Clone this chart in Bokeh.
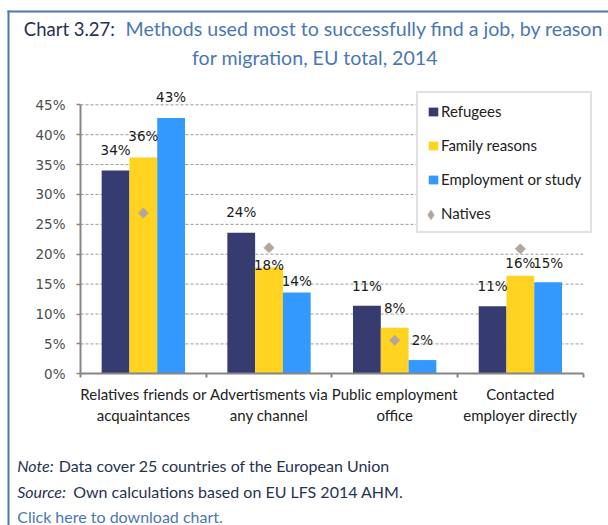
import numpy as np
from bokeh.plotting import figure
from bokeh.models import (ColumnDataSource, Range1d, FixedTicker, LabelSet, Label,
                          BoxAnnotation, Legend, LegendItem)
from bokeh.core.properties import value
from bokeh.embed import file_html
from bokeh.resources import INLINE

# ---------------- data ----------------
categories = ["Relatives friends or\nacquaintances", "Advertisments via\nany channel",
              "Public employment\noffice", "Contacted\nemployer directly"]
refugees = [34.0, 23.6, 11.4, 11.3]
family = [36.2, 17.8, 7.7, 16.4]
employment = [42.8, 13.6, 2.3, 15.3]
natives = [26.9, 21.1, 5.6, 20.9]
series_names = ["Refugees", "Family reasons", "Employment or study"]
natives_name = "Natives"
y_ticks = [0, 5, 10, 15, 20, 25, 30, 35, 40, 45]

title_lead = "Chart 3.27:"
title_rest = "Methods used most to successfully find a job, by reason"
title_line2 = "for migration, EU total, 2014"
note_lead, note_text = "Note:", "Data cover 25 countries of the European Union"
source_lead, source_text = "Source:", "Own calculations based on EU LFS 2014 AHM."
link_text = "Click here to download chart."

# ---------------- layout / styles ----------------
W, H = 608, 525
PX_X0, PX_X1 = 80.0, 582.7      # pixel x of the plot area (category 0 .. n)
PX_Y0, PX_Y1 = 373.3, 104.3     # pixel y of 0% and 45%
colors = ["#363B70", "#FFD320", "#3399FF"]
native_color = "#B3A69E"
BW = 0.221
# pixel offset of each value label above its bar top (style)
label_dy = [[21, 21, 21], [21, 2, 12], [20, 20, 20], [20, 13, 19]]
AX = "#868686"
GRID = "#9a9a9a"

n = len(categories)
ymax = y_ticks[-1]
sx_ = (PX_X1 - PX_X0) / n
sy_ = (PX_Y0 - PX_Y1) / ymax


def dx(px):
    return (px - PX_X0) / sx_


def dy(py):
    return (PX_Y0 - py) / sy_


p = figure(width=W, height=H, output_backend="svg", toolbar_location=None,
           x_range=Range1d(dx(0), dx(W)), y_range=Range1d(dy(H), dy(0)),
           min_border_left=0, min_border_right=0, min_border_top=0, min_border_bottom=0)
p.title.visible = False
p.outline_line_color = None
p.background_fill_color = "white"
p.border_fill_color = "white"

centers = [i + 0.5 for i in range(n)]

# dashed grid lines across the plot area only
grid_y = y_ticks[1:]
p.segment(x0=[0] * len(grid_y), x1=[n] * len(grid_y), y0=grid_y, y1=grid_y,
          line_color=GRID, line_dash="3 2", line_width=1)

series = [refugees, family, employment]
lx, ly, lt, ld = [], [], [], []
bar_renderers = []
for j, (name, vals, col) in enumerate(zip(series_names, series, colors)):
    xs = [c + (j - 1) * BW for c in centers]
    r = p.vbar(x=xs, top=vals, width=BW, fill_color=col, line_color=None)
    bar_renderers.append(r)
    for i in range(n):
        lx.append(xs[i]); ly.append(vals[i]); lt.append(f"{round(vals[i])}%"); ld.append(label_dy[i][j])

# natives: rotated squares (diamonds) on the chart
p.scatter(x=centers, y=natives, marker="square", angle=np.pi / 4, size=7,
          fill_color=native_color, line_color=native_color)
# same series as a diamond marker, hidden, used only for the legend swatch
nat_key = p.scatter(x=centers, y=natives, marker="diamond", size=9,
                    fill_color=native_color, line_color=native_color, visible=False)

lsrc = ColumnDataSource(dict(x=lx, y=ly, text=lt, dy=ld))
p.add_layout(LabelSet(x="x", y="y", text="text", y_offset="dy", source=lsrc,
                      text_align="center", text_baseline="middle",
                      text_font=value("DejaVu Sans"), text_font_size=value("13.5px"),
                      text_color="#1a1a1a"))

# axes (fixed inside the frame)
p.yaxis.fixed_location = 0
p.yaxis.bounds = (0, ymax)
p.yaxis.ticker = FixedTicker(ticks=y_ticks)
p.yaxis.major_label_overrides = {t: f"{t}%" for t in y_ticks}
p.yaxis.major_label_text_font = "DejaVu Sans"
p.yaxis.major_label_text_font_size = "13.5px"
p.yaxis.major_label_text_color = "#4d4d4d"
p.yaxis.major_label_standoff = 11
p.yaxis.major_tick_in = 0
p.yaxis.major_tick_out = 4
p.yaxis.minor_tick_line_color = None
p.yaxis.axis_line_color = AX
p.yaxis.axis_line_width = 2
p.yaxis.major_tick_line_color = AX
p.yaxis.major_tick_line_width = 1.5

p.xaxis.fixed_location = 0
p.xaxis.bounds = (0, n)
p.xaxis.ticker = FixedTicker(ticks=centers, minor_ticks=list(range(n + 1)))
p.xaxis.major_label_overrides = {c: lab for c, lab in zip(centers, categories)}
p.xaxis.major_label_text_font = "Lato"
p.xaxis.major_label_text_font_size = "15px"
p.xaxis.major_label_text_color = "#222222"
p.xaxis.major_tick_line_color = None
p.xaxis.major_tick_in = 0
p.xaxis.major_tick_out = 0
p.xaxis.major_label_standoff = 7
p.xaxis.minor_tick_in = 0
p.xaxis.minor_tick_out = 4
p.xaxis.minor_tick_line_color = AX
p.xaxis.minor_tick_line_width = 2
p.xaxis.axis_line_color = AX
p.xaxis.axis_line_width = 2

p.xgrid.visible = False
p.ygrid.visible = False

# legends: A = box + labels + bar swatches, B = natives diamond swatch
def style_legend(lg):
    lg.margin = 0
    lg.label_text_font = "Lato"
    lg.label_text_font_size = "15px"
    lg.label_text_color = "#222222"

legA_items = [LegendItem(label=nm, renderers=[r]) for nm, r in zip(series_names, bar_renderers)]
legA_items.append(LegendItem(label=natives_name, renderers=[]))
legA = Legend(items=legA_items, location=(416, H - 233), padding=9, spacing=16,
              label_height=18, glyph_width=12, glyph_height=11, label_standoff=2,
              border_line_color="#C4C4C4", border_line_width=2,
              background_fill_color="white", background_fill_alpha=1)
style_legend(legA)
KEY = 23
legB = Legend(items=[LegendItem(label="", renderers=[nat_key])],
              location=(430.4 - KEY / 2, H - (214.5 + KEY / 2)), padding=0, spacing=0,
              label_height=KEY, glyph_width=KEY, glyph_height=KEY, label_standoff=0,
              border_line_color=None, background_fill_alpha=0)
style_legend(legB)
p.add_layout(legA)
p.add_layout(legB)

# outer blue border
BC = "#4A78AF"
for l, r_, t, b in [(7, 9, 10, H + 10), (7, W + 10, 10, 12)]:
    p.add_layout(BoxAnnotation(left=dx(l), right=dx(r_), top=dy(t), bottom=dy(b),
                               fill_color=BC, fill_alpha=1, line_color=None))

# titles and notes (positioned from pixel baselines)
DARK = "#263350"
BLUE = "#4A77B4"


def lab(x, base, text, color, size=16, style="normal", align="left"):
    p.add_layout(Label(x=dx(x), y=dy(base - 0.387 * size), text=text,
                       text_font="Lato", text_font_size=f"{size}px", text_color=color,
                       text_font_style=style, text_align=align, text_baseline="middle"))


lab(23.3, 36, title_lead, DARK, size=18.5)
lab(125, 36, title_rest, BLUE, size=19.6)
lab(314.5, 65, title_line2, BLUE, size=19.6, align="center")
lab(16.7, 471, note_lead, DARK, style="italic")
lab(58.3, 471, note_text, DARK)
lab(16.7, 496.7, source_lead, DARK, style="italic")
lab(72.7, 496.7, source_text, DARK)
lab(16.7, 521.7, link_text, BLUE)

open("out.html", "w").write(file_html(p, INLINE))
